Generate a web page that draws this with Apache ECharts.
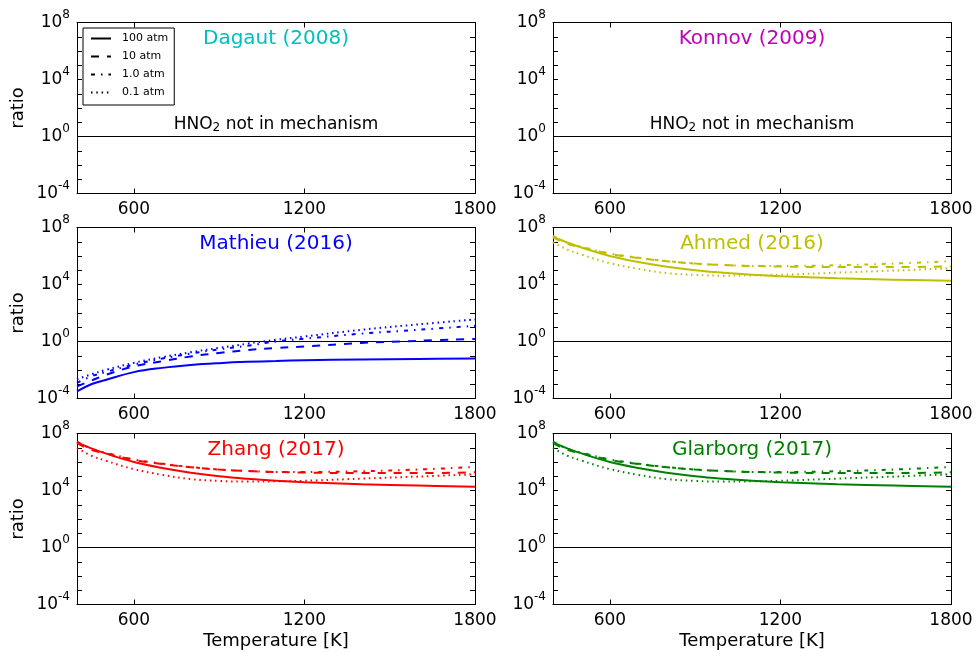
<!DOCTYPE html>
<html><head><meta charset="utf-8">
<script src="https://cdn.jsdelivr.net/npm/echarts@6/dist/echarts.min.js"></script>
<style>html,body{margin:0;padding:0;background:#fff}#c{width:977px;height:652px}</style>
</head><body><div id="c"></div><script>
// ---------- data ----------
const temps = [400, 450, 500, 600, 700, 800, 900, 1000, 1100, 1200, 1400, 1600, 1800];
const pressures = ['100 atm', '10 atm', '1.0 atm', '0.1 atm'];
const xTicks = [600, 1200, 1800];
const yLabelTicks = [1e-4, 1, 1e4, 1e8];
const yTicks = [1e-4, 1e-3, 1e-2, 1e-1, 1, 1e1, 1e2, 1e3, 1e4, 1e5, 1e6, 1e7, 1e8];
const refT = [400, 1800];
const refRatio = [1, 1];

const mathieu100 = [3.16e-4, 1.0e-3, 2.0e-3, 7.08e-3, 1.41e-2, 2.24e-2, 3.02e-2, 3.72e-2, 4.27e-2, 4.79e-2, 5.5e-2, 6.03e-2, 6.46e-2];
const mathieu10  = [7.08e-4, 1.78e-3, 4.47e-3, 1.78e-2, 4.17e-2, 8.91e-2, 0.158, 0.251, 0.355, 0.447, 0.794, 1.12, 1.51];
const mathieu1   = [1.26e-3, 3.55e-3, 7.08e-3, 2.4e-2, 6.31e-2, 0.141, 0.282, 0.501, 1.0, 1.58, 3.55, 6.61, 12.6];
const mathieu01  = [2.24e-3, 5.01e-3, 1.0e-2, 3.16e-2, 7.94e-2, 0.178, 0.355, 0.708, 1.32, 2.24, 6.61, 15.8, 35.5];

const ahmed100 = [2.24e7, 8.91e6, 3.98e6, 1.0e6, 3.8e5, 1.78e5, 1.0e5, 6.61e4, 4.79e4, 3.8e4, 2.75e4, 2.19e4, 1.82e4];
const ahmed10  = [2.0e7, 7.08e6, 3.98e6, 1.41e6, 7.08e5, 4.27e5, 2.95e5, 2.34e5, 2.0e5, 1.82e5, 1.66e5, 1.66e5, 1.86e5];
const ahmed1   = [2.63e7, 8.51e6, 4.47e6, 1.51e6, 7.59e5, 4.47e5, 2.95e5, 2.34e5, 2.0e5, 2.0e5, 2.24e5, 2.95e5, 4.37e5];
const ahmed01  = [9.33e6, 2.82e6, 1.26e6, 3.16e5, 1.26e5, 6.31e4, 4.68e4, 4.17e4, 4.37e4, 4.79e4, 6.76e4, 9.55e4, 1.38e5];

const zhang100 = [2.4e7, 9.1e6, 4.0e6, 1.0e6, 3.8e5, 1.78e5, 1.0e5, 6.6e4, 4.8e4, 3.8e4, 2.75e4, 2.2e4, 1.82e4];
const zhang10  = [2.1e7, 7.2e6, 4.0e6, 1.41e6, 7.1e5, 4.27e5, 2.95e5, 2.34e5, 2.0e5, 1.82e5, 1.66e5, 1.66e5, 1.9e5];
const zhang1   = [2.7e7, 8.5e6, 4.5e6, 1.51e6, 7.6e5, 4.47e5, 2.95e5, 2.34e5, 2.0e5, 2.0e5, 2.24e5, 2.95e5, 4.5e5];
const zhang01  = [9.5e6, 2.8e6, 1.26e6, 3.16e5, 1.26e5, 6.3e4, 4.7e4, 4.2e4, 4.4e4, 4.8e4, 6.8e4, 9.5e4, 1.38e5];

const glarborg100 = [2.4e7, 9.1e6, 4.0e6, 1.0e6, 3.8e5, 1.78e5, 1.0e5, 6.6e4, 4.8e4, 3.8e4, 2.75e4, 2.2e4, 1.82e4];
const glarborg10  = [2.1e7, 7.2e6, 4.0e6, 1.41e6, 7.1e5, 4.27e5, 2.95e5, 2.34e5, 2.0e5, 1.82e5, 1.66e5, 1.66e5, 1.9e5];
const glarborg1   = [2.7e7, 8.5e6, 4.5e6, 1.51e6, 7.6e5, 4.47e5, 2.95e5, 2.34e5, 2.0e5, 2.0e5, 2.24e5, 2.95e5, 4.5e5];
const glarborg01  = [9.5e6, 2.8e6, 1.26e6, 3.16e5, 1.26e5, 6.3e4, 4.7e4, 4.2e4, 4.4e4, 4.8e4, 6.8e4, 9.5e4, 1.38e5];

const panelNames = ['Dagaut (2008)', 'Konnov (2009)', 'Mathieu (2016)', 'Ahmed (2016)', 'Zhang (2017)', 'Glarborg (2017)'];
const panelColors = ['#00BFBF', '#BF00BF', '#0000FF', '#BFBF00', '#FF0000', '#008000'];
const panelData = [null, null,
  [mathieu100, mathieu10, mathieu1, mathieu01],
  [ahmed100, ahmed10, ahmed1, ahmed01],
  [zhang100, zhang10, zhang1, zhang01],
  [glarborg100, glarborg10, glarborg1, glarborg01]];
const missingText = 'HNO{sub|2} not in mechanism';

// ---------- layout / style ----------
const FONT = 'DejaVu Sans';
const colLeft = [77, 553];
const rowTop = [22.5, 227.5, 433.5];
const gw = 398, gh = 171;
const dashes = ['solid', [8, 8], [4, 6, 1.5, 6], [1.5, 3.8]];

const grids = [], xAxes = [], yAxes = [], series = [], graphics = [];
const expLabel = v => {
  const e = Math.round(Math.log10(v));
  return '{b|10}{s|' + e + '}';
};
// inward ticks: drawn "outside" with a negative length
const tick = vals => ({ show: true, inside: false, length: -5, customValues: vals, lineStyle: { color: '#000', width: 1 } });

for (let i = 0; i < 6; i++) {
  const col = i % 2, row = Math.floor(i / 2);
  const left = colLeft[col], top = rowTop[row];
  grids.push({ left: left, top: top, width: gw, height: gh, containLabel: false });
  const bottomRow = row === 2, leftCol = col === 0;
  const axLine = { show: true, onZero: false, lineStyle: { color: '#000', width: 1 } };
  xAxes.push({
    type: 'value', gridIndex: i, min: 400, max: 1800, position: 'bottom',
    axisLine: axLine, axisTick: tick(xTicks),
    axisLabel: { show: true, customValues: xTicks, formatter: v => String(v), fontSize: 17, color: '#000', margin: 8, fontFamily: FONT },
    splitLine: { show: false },
    name: bottomRow ? 'Temperature [K]' : '', nameLocation: 'middle', nameGap: 28,
    nameTextStyle: { fontSize: 18, color: '#000', fontFamily: FONT }
  });
  xAxes.push({
    type: 'value', gridIndex: i, min: 400, max: 1800, position: 'top',
    axisLine: axLine, axisTick: tick(xTicks),
    axisLabel: { show: false }, splitLine: { show: false }
  });
  yAxes.push({
    type: 'log', logBase: 10, gridIndex: i, min: 1e-4, max: 1e8, position: 'left',
    axisLine: axLine, axisTick: tick(yTicks),
    axisLabel: {
      show: true, customValues: yLabelTicks, formatter: expLabel, margin: 7, color: '#000',
      rich: {
        b: { fontSize: 17, fontFamily: FONT, color: '#000' },
        s: { fontSize: 12, fontFamily: FONT, color: '#000', padding: [0, 0, 15, 0] }
      }
    },
    splitLine: { show: false },
    name: leftCol ? 'ratio' : '', nameLocation: 'middle', nameGap: 50, nameRotate: 90,
    nameTextStyle: { fontSize: 18, color: '#000', fontFamily: FONT }
  });
  yAxes.push({
    type: 'log', logBase: 10, gridIndex: i, min: 1e-4, max: 1e8, position: 'right',
    axisLine: axLine, axisTick: tick(yTicks),
    axisLabel: { show: false }, splitLine: { show: false }
  });

  series.push({
    type: 'line', name: 'ref' + i, xAxisIndex: 2 * i, yAxisIndex: 2 * i,
    data: refT.map((t, j) => [t, refRatio[j]]), symbol: 'none', silent: true,
    lineStyle: { color: '#000', width: 1 }, itemStyle: { color: '#000' }, z: 3
  });

  const d = panelData[i];
  if (d) {
    d.forEach((arr, k) => {
      series.push({
        type: 'line', name: panelNames[i] + ' ' + pressures[k], xAxisIndex: 2 * i, yAxisIndex: 2 * i,
        data: temps.map((t, j) => [t, arr[j]]), symbol: 'none', smooth: 0.4,
        lineStyle: { color: panelColors[i], width: 2, type: dashes[k] },
        itemStyle: { color: panelColors[i] }, z: 4
      });
    });
  } else {
    graphics.push({
      type: 'text', x: left + gw / 2, y: top + gh * 8 / 12 - 12,
      style: {
        text: missingText, textAlign: 'center', textVerticalAlign: 'middle',
        fontSize: 17, fontFamily: FONT, fill: '#000',
        rich: { sub: { fontSize: 12, fontFamily: FONT, fill: '#000', padding: [7, 0, 0, 0] } }
      }
    });
  }
  graphics.push({
    type: 'text', x: left + gw / 2, y: top + 16,
    style: { text: panelNames[i], textAlign: 'center', textVerticalAlign: 'middle', fontSize: 20, fontFamily: FONT, fill: panelColors[i] }
  });
}

pressures.forEach((p, k) => {
  series.push({
    type: 'line', name: p, xAxisIndex: 0, yAxisIndex: 0, data: [], symbol: 'none',
    lineStyle: { color: '#000', width: 2.5, type: dashes[k] }, itemStyle: { color: '#000' }
  });
});

const chart = echarts.init(document.getElementById('c'), null, { renderer: 'canvas' });
chart.setOption({
  animation: false,
  backgroundColor: '#fff',
  grid: grids, xAxis: xAxes, yAxis: yAxes, series: series,
  legend: {
    show: true, orient: 'vertical', left: 83, top: 28, data: pressures,
    itemWidth: 20, itemHeight: 10, itemGap: 7, padding: [5, 6, 7, 7],
    borderColor: '#000', borderWidth: 1, borderRadius: 0, backgroundColor: '#fff',
    itemStyle: { opacity: 0 },
    textStyle: { fontSize: 11, color: '#000', fontFamily: FONT, padding: [0, 0, 0, 6] },
    selectedMode: false, z: 10
  },
  graphic: graphics
});
</script></body></html>
